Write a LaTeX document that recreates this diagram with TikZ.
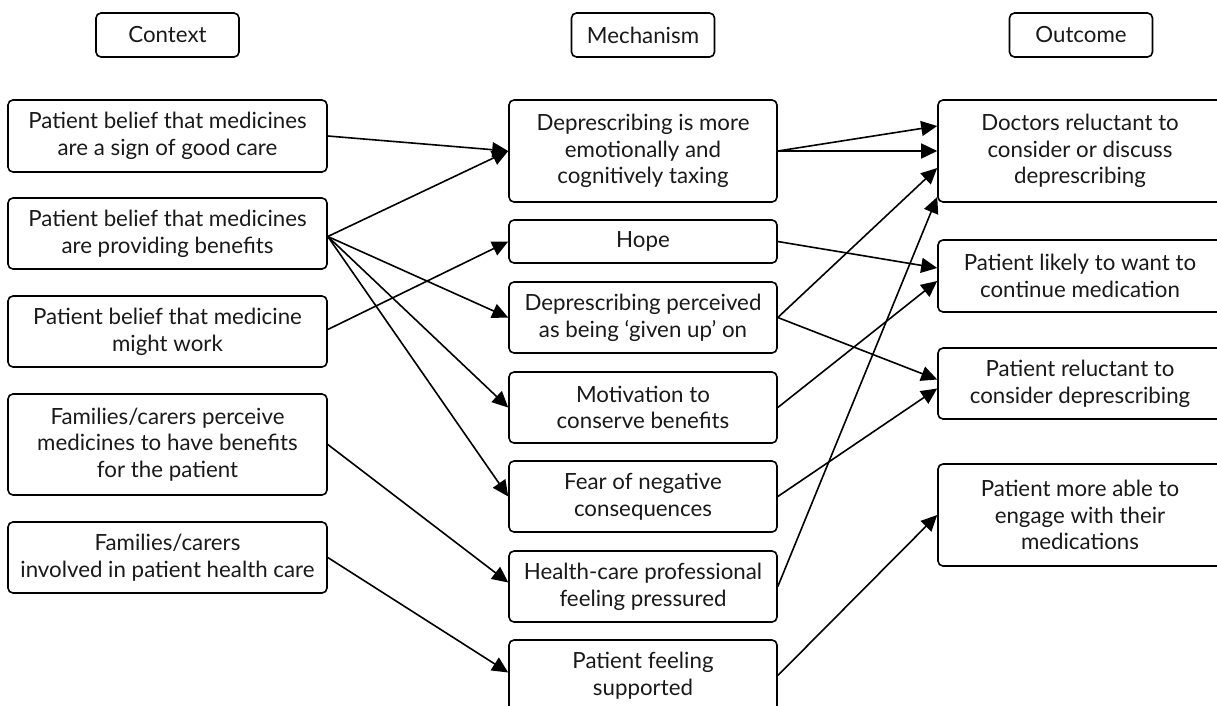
\documentclass[tikz,border=0pt]{standalone}
\usepackage{fontspec}
\setmainfont{Lato}
\usetikzlibrary{arrows.meta,calc}
\tikzset{
  box/.style={draw, line width=1.6pt, rounded corners=5pt, align=center, inner sep=0pt,
    font=\fontsize{22.3}{26.7}\selectfont, text=black!90},
  ctx/.style={box, minimum width=319pt},
  mech/.style={box, minimum width=268pt},
  outc/.style={box, minimum width=284pt},
  hdr/.style={box, minimum width=143pt, minimum height=44pt},
  arr/.style={line width=1.6pt, -{Triangle[length=16pt,width=15pt]}},
}
\begin{document}
\begin{tikzpicture}[x=1pt,y=-1pt]
\useasboundingbox (0,0) rectangle (1217,705);
\clip (0,0) rectangle (1217,705);
% headers
\node[hdr] (hc) at (167.5,35) {Context};
\node[hdr] (hm) at (643,35) {Mechanism};
\node[hdr] (ho) at (1081,35) {Outcome};
% context
\node[ctx, minimum height=72pt] (c1) at (167.5,136) {Patient belief that medicines\\are a sign of good care};
\node[ctx, minimum height=71pt] (c2) at (167.5,233.5) {Patient belief that medicines\\are providing benefits};
\node[ctx, minimum height=71pt] (c3) at (167.5,331.5) {Patient belief that medicine\\might work};
\node[ctx, minimum height=101pt] (c4) at (167.5,444.5) {Families/carers perceive\\medicines to have benefits\\for the patient};
\node[ctx, minimum height=71pt] (c5) at (167.5,557.5) {Families/carers\\involved in patient health care};
% mechanism
\node[mech, minimum height=102pt] (m1) at (643,151) {Deprescribing is more\\emotionally and\\cognitively taxing};
\node[mech, minimum height=43pt] (m2) at (643,241.5) {Hope};
\node[mech, minimum height=71pt] (m3) at (643,317.5) {Deprescribing perceived\\as being ‘given up’ on};
\node[mech, minimum height=71pt] (m4) at (643,407.5) {Motivation to\\conserve benefits};
\node[mech, minimum height=71pt] (m5) at (643,496.5) {Fear of negative\\consequences};
\node[mech, minimum height=71pt] (m6) at (643,586.5) {Health-care professional\\feeling pressured};
\node[mech, minimum height=71pt] (m7) at (643,675.5) {Patient feeling\\supported};
% outcome
\node[outc, minimum height=102pt] (o1) at (1080,151) {Doctors reluctant to\\consider or discuss\\deprescribing};
\node[outc, minimum height=72pt] (o2) at (1080,276) {Patient likely to want to\\continue medication};
\node[outc, minimum height=71pt] (o3) at (1080,383.5) {Patient reluctant to\\consider deprescribing};
\node[outc, minimum height=102pt] (o4) at (1080,515) {Patient more able to\\engage with their\\medications};
% context -> mechanism
\draw[arr] (c1.east) -- (m1.west);
\draw[arr] ($(c2.east)+(0,3)$) -- (m1.west);
\draw[arr] ($(c2.east)+(0,3)$) -- (m3.west);
\draw[arr] ($(c2.east)+(0,3)$) -- (m4.west);
\draw[arr] ($(c2.east)+(0,3)$) -- (m5.west);
\draw[arr] ($(c3.east)+(0,-2)$) -- (m2.west);
\draw[arr] (c4.east) -- ($(m6.west)+(0,-4)$);
\draw[arr] (c5.east) -- ($(m7.west)+(0,-3)$);
% mechanism -> outcome
\draw[arr] (m1.east) -- ($(o1.west)+(0,-25)$);
\draw[arr] (m1.east) -- (o1.west);
\draw[arr] (m3.east) -- ($(o1.west)+(0,17)$);
\draw[arr] (m6.east) -- ($(o1.west)+(0,46)$);
\draw[arr] (m2.east) -- ($(o2.west)+(0,-8)$);
\draw[arr] (m4.east) -- ($(o2.west)+(0,5)$);
\draw[arr] (m3.east) -- ($(o3.west)+(0,-4)$);
\draw[arr] (m5.east) -- ($(o3.west)+(0,5)$);
\draw[arr] (m7.east) -- (o4.west);
\end{tikzpicture}
\end{document}
